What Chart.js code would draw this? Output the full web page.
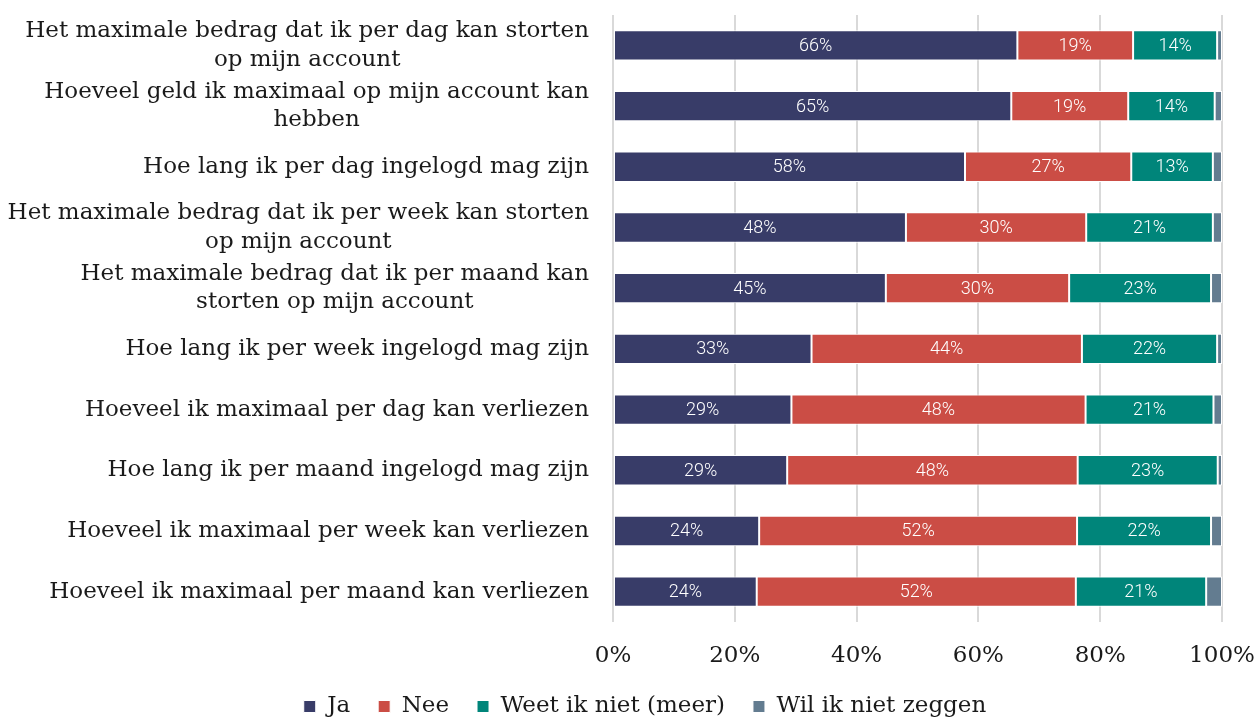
<!DOCTYPE html>
<html>
<head>
<meta charset="utf-8">
<script src="https://cdn.jsdelivr.net/npm/chart.js@4"></script>
<style>
  body { margin: 0; background: #fff; }
  #wrap { width: 1258px; height: 719px; }
</style>
</head>
<body>
<div id="wrap"><canvas id="chart"></canvas></div>
<script>
const categories = [
  ["Het maximale bedrag dat ik per dag kan storten", "op mijn account"],
  ["Hoeveel geld ik maximaal op mijn account kan", "hebben"],
  ["Hoe lang ik per dag ingelogd mag zijn"],
  ["Het maximale bedrag dat ik per week kan storten", "op mijn account"],
  ["Het maximale bedrag dat ik per maand kan", "storten op mijn account"],
  ["Hoe lang ik per week ingelogd mag zijn"],
  ["Hoeveel ik maximaal per dag kan verliezen"],
  ["Hoe lang ik per maand ingelogd mag zijn"],
  ["Hoeveel ik maximaal per week kan verliezen"],
  ["Hoeveel ik maximaal per maand kan verliezen"],
];

const seriesNames = ["Ja", "Nee", "Weet ik niet (meer)", "Wil ik niet zeggen"];
const jaValues   = [66.4, 65.4, 57.8, 48.1, 44.8, 32.6, 29.3, 28.6, 24.0, 23.6];
const neeValues  = [19.0, 19.2, 27.3, 29.6, 30.1, 44.4, 48.3, 47.7, 52.2, 52.4];
const weetValues = [13.8, 14.2, 13.4, 20.8, 23.3, 22.2, 21.0, 23.0, 22.0, 21.4];
const wilValues  = [0.8, 1.2, 1.5, 1.5, 1.8, 0.8, 1.4, 0.7, 1.8, 2.6];
const xTicks = [0, 20, 40, 60, 80, 100];

const colors = ["#383c68", "#cb4d45", "#00857a", "#637c90"];
const serif = "'DejaVu Serif', serif";

// y labels: block right-aligned, lines centred inside the block
const categoryLabels = {
  id: "categoryLabels",
  afterDraw(chart) {
    const ctx = chart.ctx;
    const yScale = chart.scales.y;
    const right = chart.chartArea.left - 24;
    const lineH = 28.5;
    ctx.save();
    ctx.font = "23px " + serif;
    ctx.fillStyle = "#1a1a1a";
    ctx.textAlign = "center";
    ctx.textBaseline = "middle";
    categories.forEach((lines, i) => {
      const cy = yScale.getPixelForValue(i);
      const w = Math.max(...lines.map((l) => ctx.measureText(l).width));
      const cx = right - w / 2;
      lines.forEach((l, k) => {
        ctx.fillText(l, cx, cy + (k - (lines.length - 1) / 2) * lineH);
      });
    });
    ctx.restore();
  },
};

// percentages inside the bars
const barLabels = {
  id: "barLabels",
  afterDatasetsDraw(chart) {
    const ctx = chart.ctx;
    ctx.save();
    ctx.font = "300 18px Roboto";
    ctx.fillStyle = "#ffffff";
    ctx.textAlign = "center";
    ctx.textBaseline = "middle";
    chart.data.datasets.forEach((ds, di) => {
      if (di === 3) return; // smallest segment has no label
      const meta = chart.getDatasetMeta(di);
      meta.data.forEach((bar, i) => {
        const x = (bar.x + bar.base) / 2;
        ctx.fillText(Math.round(ds.data[i]) + "%", x, bar.y + 1);
      });
    });
    ctx.restore();
  },
};

const valueSets = [jaValues, neeValues, weetValues, wilValues];

new Chart(document.getElementById("chart"), {
  type: "bar",
  data: {
    labels: categories.map((c) => c.join(" ")),
    datasets: seriesNames.map((name, i) => ({
      label: name,
      data: valueSets[i],
      backgroundColor: colors[i],
      borderColor: "#ffffff",
      borderWidth: 1,
      borderSkipped: false,
      barPercentage: 0.5,
      categoryPercentage: 1,
    })),
  },
  options: {
    indexAxis: "y",
    responsive: true,
    maintainAspectRatio: false,
    animation: false,
    layout: { padding: { top: 15, right: 36, bottom: -9, left: 68 } },
    scales: {
      x: {
        stacked: true,
        min: 0,
        max: 100,
        afterBuildTicks(scale) {
          scale.ticks = xTicks.map((v) => ({ value: v }));
        },
        afterFit(scale) {
          scale.height = 45;
          scale.paddingLeft = 0;
          scale.paddingRight = 0;
        },
        ticks: {
          callback: (v) => v + "%",
          font: { family: serif, size: 23 },
          color: "#1a1a1a",
          padding: 20,
          maxRotation: 0,
        },
        grid: { color: "#d9d9d9", lineWidth: 2, drawTicks: false },
        border: { display: false },
      },
      y: {
        stacked: true,
        afterFit(scale) {
          scale.width = 545;
        },
        ticks: { display: false },
        grid: { display: false },
        border: { display: false },
      },
    },
    plugins: {
      legend: {
        position: "bottom",
        labels: {
          font: { family: serif, size: 23 },
          color: "#1a1a1a",
          boxWidth: 12,
          boxHeight: 12,
          padding: 28,
        },
      },
      tooltip: { enabled: false },
    },
  },
  plugins: [categoryLabels, barLabels],
});
</script>
</body>
</html>
